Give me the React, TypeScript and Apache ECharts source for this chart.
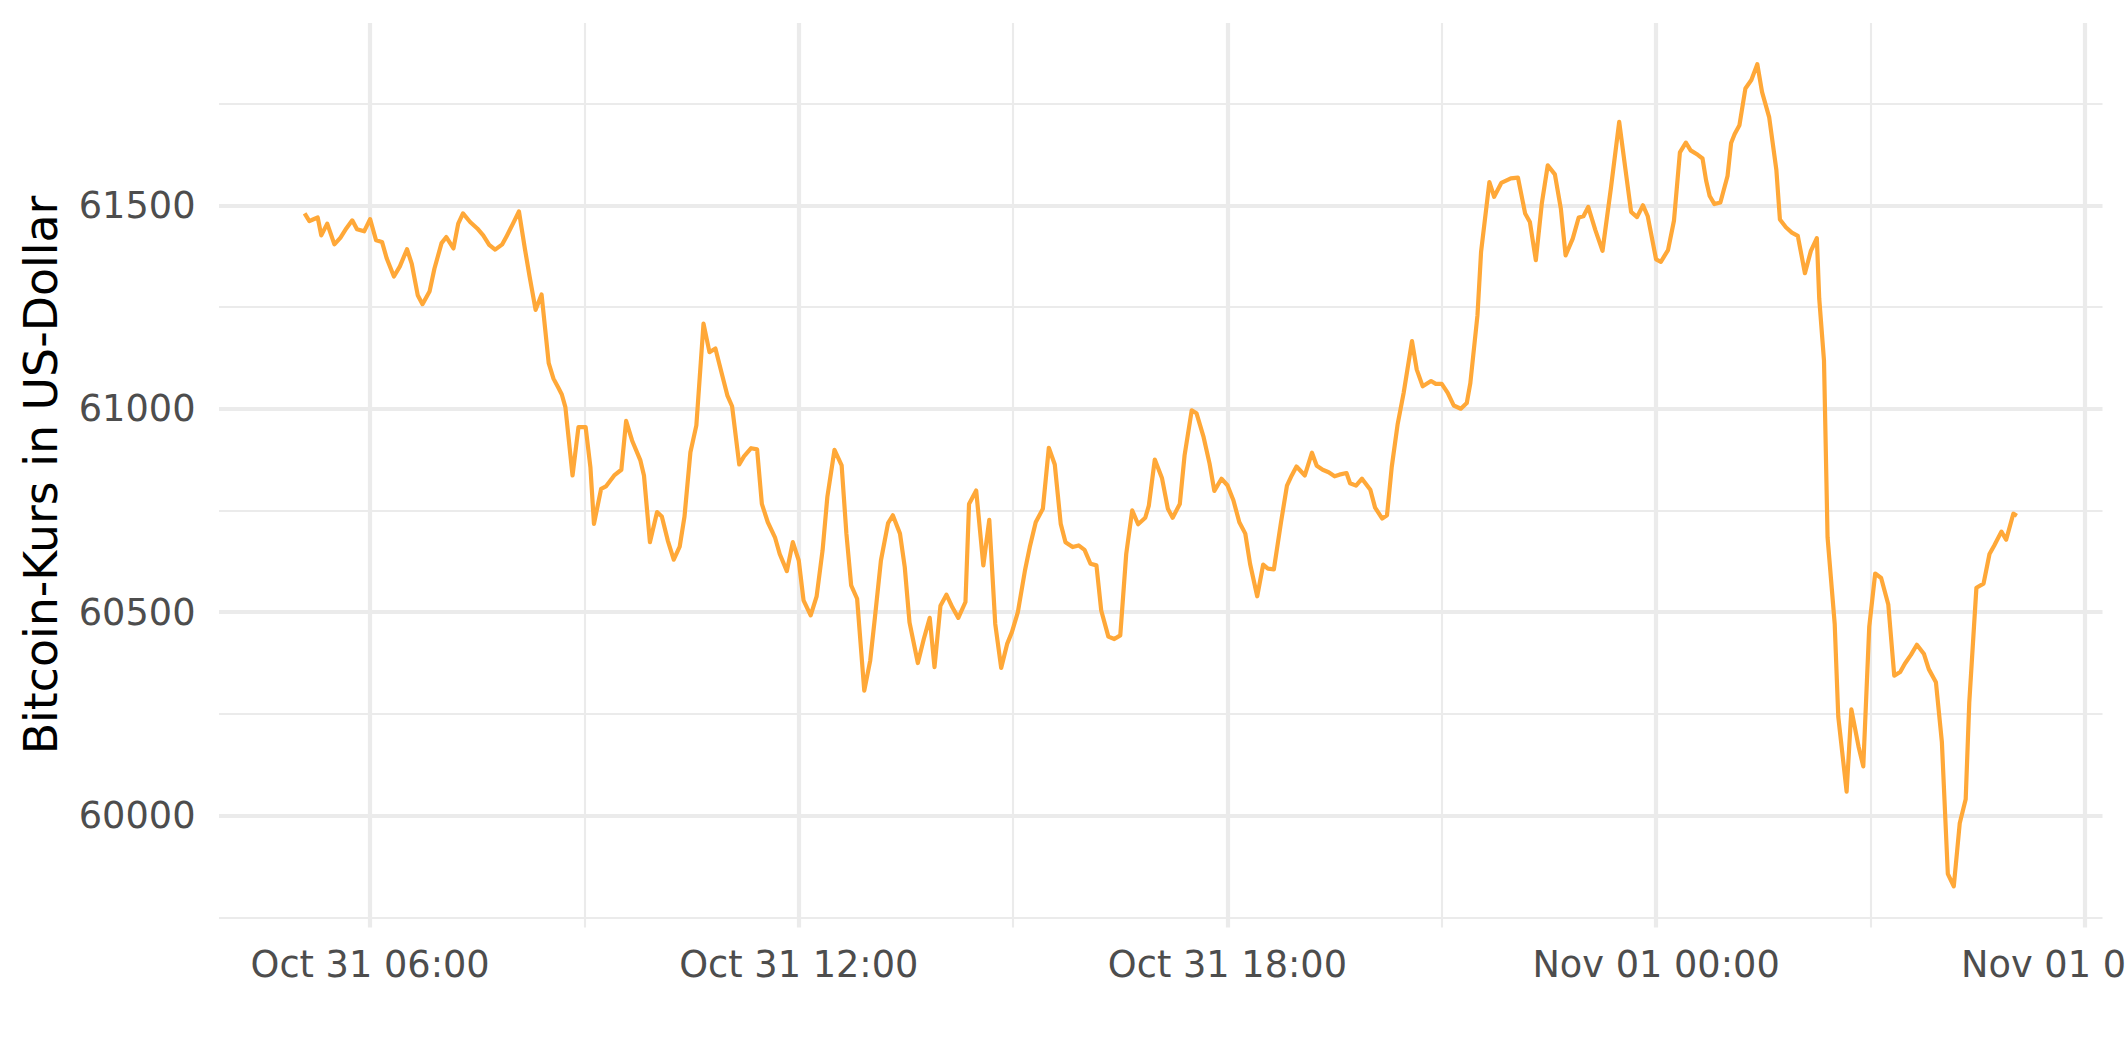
import React, { useEffect, useRef } from "react";
import * as echarts from "echarts";

// ---- data ----
// times of day (Oct 31 -> Nov 01), prices in USD
const times: string[] = [
  "05:05","05:09","05:12","05:16","05:19","05:24","05:30","05:35","05:40","05:45","05:49","05:55",
  "06:00","06:05","06:10","06:14","06:20","06:25","06:31","06:35","06:40","06:44","06:50","06:54",
  "07:00","07:04","07:10","07:14","07:18","07:24","07:30","07:35","07:40","07:45","07:51","07:55",
  "08:00","08:05","08:10","08:14","08:19","08:24","08:30","08:34","08:38","08:41","08:44","08:50","08:55",
  "09:01","09:05","09:08","09:14","09:18","09:25","09:31","09:35","09:40","09:47","09:50","09:55",
  "10:01","10:05","10:10","10:15","10:20","10:24","10:29","10:34","10:40","10:45","10:50","10:55",
  "11:00","11:04","11:10","11:14","11:20","11:25","11:29","11:34","11:40","11:44","11:50","11:55",
  "12:00","12:04","12:10","12:15","12:20","12:24","12:30","12:36","12:40","12:44","12:49","12:55",
  "13:00","13:04","13:09","13:15","13:19","13:25","13:29","13:33","13:40","13:45","13:50","13:54","13:59",
  "14:04","14:09","14:14","14:20","14:23","14:29","14:35","14:40","14:45","14:50","14:55","14:59",
  "15:04","15:10","15:14","15:19","15:25","15:30","15:35","15:40","15:44","15:50","15:55",
  "16:00","16:05","16:10","16:14","16:20","16:25","16:30","16:35","16:40","16:45","16:51","16:54","16:59",
  "17:05","17:10","17:14","17:20","17:24","17:30","17:34","17:40","17:45","17:49","17:55",
  "18:00","18:05","18:10","18:15","18:19","18:25","18:30","18:34","18:39","18:45","18:50","18:54","18:58",
  "19:05","19:11","19:15","19:20","19:25","19:30","19:34","19:40","19:43","19:48","19:53",
  "20:00","20:04","20:10","20:14","20:18","20:23","20:28","20:35","20:39","20:44","20:51","20:55",
  "21:00","21:05","21:10","21:16","21:21","21:24","21:30","21:33","21:40","21:44","21:50","21:58",
  "22:04","22:10","22:14","22:19","22:24","22:29","22:35","22:40","22:44","22:50","22:55","22:59",
  "23:03","23:09","23:15","23:22","23:29","23:34","23:39","23:44","23:49","23:53",
  "00:00","00:04","00:10","00:15","00:20","00:25","00:29","00:35","00:39","00:42","00:45","00:49","00:54",
  "01:00","01:03","01:06","01:10","01:15","01:20","01:25","01:29","01:35","01:41","01:44","01:49","01:54","01:59",
  "02:05","02:10","02:15","02:17","02:21","02:24","02:30","02:33","02:40","02:44","02:50","02:54","02:59",
  "03:04","03:09","03:15","03:20","03:25","03:29","03:34","03:39","03:45","03:49","03:55",
  "04:00","04:05","04:10","04:15","04:20","04:23","04:29","04:35","04:40","04:44","04:50","04:54",
  "05:00","05:03"
];

const prices: number[] = [
  61480,61461,61465,61470,61426,61455,61404,61420,61443,61463,61441,61436,
  61466,61414,61410,61369,61325,61350,61392,61356,61279,61257,61289,61344,
  61407,61422,61394,61455,61480,61459,61443,61426,61403,61391,61404,61426,
  61455,61485,61393,61324,61243,61281,61112,61074,61052,61035,61004,60836,60955,
  60955,60857,60717,60803,60809,60836,60850,60970,60922,60873,60836,60672,
  60746,60735,60676,60629,60661,60734,60893,60959,61209,61139,61148,61090,
  61033,61006,60863,60883,60903,60900,60766,60721,60684,60643,60601,60672,
  60627,60529,60492,60539,60652,60783,60899,60861,60693,60566,60533,60307,
  60381,60488,60627,60719,60738,60693,60611,60475,60375,60434,60486,60365,60516,
  60543,60512,60486,60525,60766,60799,60615,60727,60471,60363,60422,60451,
  60500,60603,60660,60721,60754,60904,60863,60717,60672,60660,60664,
  60653,60619,60615,60504,60440,60434,60443,60643,60750,60716,60732,60762,60875,
  60830,60754,60732,60766,60885,60996,60989,60930,60865,60798,60828,
  60812,60775,60721,60693,60619,60539,60617,60607,60605,60721,60811,60836,60858,
  60836,60892,60860,60850,60844,60834,60838,60842,60817,60811,60828,
  60801,60757,60730,60738,60857,60963,61039,61166,61096,61055,61068,61061,
  61061,61039,61008,61000,61014,61063,61230,61385,61557,61521,61555,61566,
  61568,61480,61459,61365,61504,61598,61576,61492,61377,61418,61470,61473,
  61496,61439,61388,61541,61705,61594,61484,61471,61500,61473,
  61367,61361,61390,61462,61630,61654,61635,61624,61615,61561,61523,61503,61507,
  61572,61653,61675,61697,61787,61808,61847,61778,61716,61587,61465,61446,61433,61425,
  61333,61388,61419,61271,61119,60684,60471,60243,60059,60261,60170,60121,60464,
  60595,60584,60519,60344,60353,60374,60395,60420,60397,60360,60328,
  60181,59857,59826,59981,60040,60277,60560,60570,60643,60664,60698,60678,
  60742,60737
];

// axis ticks (hours since Oct 31 00:00) and labels
const xTickHours: number[] = [6, 12, 18, 24, 30];
const xTickLabels: string[] = ["Oct 31 06:00", "Oct 31 12:00", "Oct 31 18:00", "Nov 01 00:00", "Nov 01 06:00"];
const xMinorHours: number[] = [9, 15, 21, 27];
const yTicks: number[] = [60000, 60500, 61000, 61500];
const yMinor: number[] = [59750, 60250, 60750, 61250, 61750];
const yTitle = "Bitcoin-Kurs in US-Dollar";

// ---- styles ----
const FONT = "DejaVu Sans";
const LINE_COLOR = "#FFA838";
const GRID_COLOR = "#EBEBEB";
const TEXT_COLOR = "#4D4D4D";

function toHours(list: string[]): number[] {
  let day = 0;
  let prev = -1;
  return list.map((s) => {
    const [h, m] = s.split(":").map(Number);
    const v = h + m / 60;
    if (v < prev) day += 24;
    prev = v;
    return day + v;
  });
}

export default function App() {
  const ref = useRef<HTMLDivElement>(null);

  useEffect(() => {
    document.body.style.margin = "0";
    if (!ref.current) return;
    const chart = echarts.init(ref.current, null, { renderer: "svg" });

    const xs = toHours(times);
    const data = xs.map((x, i) => [x, prices[i]]);
    const xLo = Math.min(...xs), xHi = Math.max(...xs);
    const yLo = Math.min(...prices), yHi = Math.max(...prices);
    const xPad = (xHi - xLo) * 0.05;
    const yPad = (yHi - yLo) * 0.05;

    const markData: any[] = [];
    xTickHours.forEach((h) => markData.push({ xAxis: h, lineStyle: { color: GRID_COLOR, width: 4.2, type: "solid" } }));
    xMinorHours.forEach((h) => markData.push({ xAxis: h, lineStyle: { color: GRID_COLOR, width: 2.1, type: "solid" } }));
    yTicks.forEach((v) => markData.push({ yAxis: v, lineStyle: { color: GRID_COLOR, width: 4.2, type: "solid" } }));
    yMinor.forEach((v) => markData.push({ yAxis: v, lineStyle: { color: GRID_COLOR, width: 2.1, type: "solid" } }));

    const option: any = {
      animation: false,
      backgroundColor: "#ffffff",
      textStyle: { fontFamily: FONT },
      grid: { left: 219, right: 22.5, top: 23, bottom: 134.5, containLabel: false, outerBoundsMode: "none" },
      xAxis: {
        type: "value",
        min: xLo - xPad,
        max: xHi + xPad,
        minInterval: 6,
        maxInterval: 6,
        axisLine: { show: false },
        axisTick: { show: false },
        splitLine: { show: false },
        minorSplitLine: { show: false },
        axisLabel: {
          show: true,
          showMinLabel: false,
          showMaxLabel: false,
          hideOverlap: false,
          margin: 18,
          fontSize: 36.7,
          fontFamily: FONT,
          color: TEXT_COLOR,
          formatter: (v: number) => {
            const i = xTickHours.findIndex((h) => Math.abs(h - v) < 1e-6);
            return i >= 0 ? xTickLabels[i] : "";
          },
        },
      },
      yAxis: {
        type: "value",
        min: yLo - yPad,
        max: yHi + yPad,
        minInterval: 500,
        maxInterval: 500,
        axisLine: { show: false },
        axisTick: { show: false },
        splitLine: { show: false },
        minorSplitLine: { show: false },
        axisLabel: {
          show: true,
          showMinLabel: false,
          showMaxLabel: false,
          margin: 23.5,
          fontSize: 36.7,
          fontFamily: FONT,
          color: TEXT_COLOR,
          formatter: (v: number) => {
            const i = yTicks.findIndex((t) => Math.abs(t - v) < 1e-6);
            return i >= 0 ? String(yTicks[i]) : "";
          },
        },
      },
      graphic: [
        {
          type: "text",
          x: 41,
          y: 475,
          rotation: Math.PI / 2,
          silent: true,
          style: {
            text: yTitle,
            fontSize: 45.8,
            fontFamily: FONT,
            fill: "#000000",
            align: "center",
            verticalAlign: "middle",
          },
        },
      ],
      series: [
        {
          type: "line",
          data,
          showSymbol: false,
          symbol: "none",
          silent: true,
          z: 3,
          lineStyle: { color: LINE_COLOR, width: 4.2, join: "round", cap: "butt" },
          markLine: {
            silent: true,
            z: 1,
            animation: false,
            symbol: ["none", "none"],
            label: { show: false },
            emphasis: { disabled: true },
            data: markData,
          },
        },
      ],
    };

    chart.setOption(option);
    return () => chart.dispose();
  }, []);

  return (
    <div
      ref={ref}
      style={{ position: "absolute", left: 0, top: 0, width: 2125, height: 1062, background: "#fff" }}
    />
  );
}
